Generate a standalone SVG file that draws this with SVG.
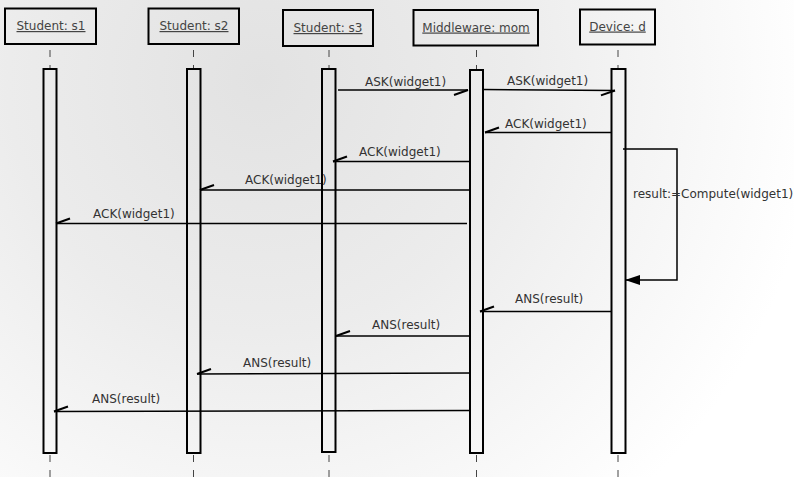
<svg xmlns="http://www.w3.org/2000/svg" width="794" height="477" viewBox="0 0 794 477">
<defs>
<radialGradient id="bg" cx="260" cy="80" r="560" gradientUnits="userSpaceOnUse">
<stop offset="0" stop-color="#e2e2e2"/>
<stop offset="0.45" stop-color="#ececec"/>
<stop offset="1" stop-color="#ffffff"/>
</radialGradient>
<marker id="half" markerUnits="userSpaceOnUse" orient="auto" markerWidth="20" markerHeight="16" viewBox="-17 -8 20 16" refX="0" refY="0" overflow="visible">
<path d="M-14,5 L0,0" fill="none" stroke="#000" stroke-width="2"/>
</marker>
<marker id="solid" markerUnits="userSpaceOnUse" orient="auto" markerWidth="20" markerHeight="16" viewBox="-17 -8 20 16" refX="0" refY="0" overflow="visible">
<path d="M0,0 L-15,-5 L-15,5 z" fill="#000"/>
</marker>
<style>
.hdr{fill:none;stroke:#000;stroke-width:2}
.hdrt{font-family:"DejaVu Sans",Verdana,sans-serif;font-size:12px;fill:#444;text-anchor:middle;text-decoration:underline}
.act{fill:none;stroke:#000;stroke-width:2}
.life{stroke:#444;stroke-width:1;stroke-dasharray:7 8;fill:none}
.msg{stroke:#000;stroke-width:1.5;fill:none;marker-end:url(#half)}
.self{stroke:#000;stroke-width:1.5;fill:none;marker-end:url(#solid)}
.lbl{font-family:"DejaVu Sans",Verdana,sans-serif;font-size:12px;fill:#333}
</style>
</defs>
<rect x="0" y="0" width="794" height="477" fill="url(#bg)"/>

<g id="s1">
<rect class="hdr" x="5" y="8.5" width="91" height="35.5"/>
<text class="hdrt" x="51" y="30">Student: s1</text>
<line class="life" x1="50" y1="50" x2="50" y2="69"/>
<line class="life" x1="50" y1="455" x2="50" y2="477"/>
<rect class="act" x="43.5" y="69" width="13" height="384"/>
</g>
<g id="s2">
<rect class="hdr" x="148.5" y="8.5" width="90.5" height="35.5"/>
<text class="hdrt" x="194" y="30">Student: s2</text>
<line class="life" x1="193.5" y1="50" x2="193.5" y2="69"/>
<line class="life" x1="193.5" y1="455" x2="193.5" y2="477"/>
<rect class="act" x="187" y="69" width="13.5" height="384"/>
</g>
<g id="s3">
<rect class="hdr" x="283" y="10" width="90" height="36"/>
<text class="hdrt" x="328" y="32">Student: s3</text>
<line class="life" x1="329" y1="50" x2="329" y2="69"/>
<line class="life" x1="329" y1="455" x2="329" y2="477"/>
<rect class="act" x="322" y="69" width="13.5" height="383"/>
</g>
<g id="mom">
<rect class="hdr" x="413.5" y="10" width="124.5" height="35.5"/>
<text class="hdrt" x="476" y="31.5">Middleware: mom</text>
<line class="life" x1="476.5" y1="50" x2="476.5" y2="70"/>
<line class="life" x1="476.5" y1="455" x2="476.5" y2="477"/>
<rect class="act" x="470" y="70" width="13" height="383"/>
</g>
<g id="device">
<rect class="hdr" x="580" y="9.5" width="75" height="35"/>
<text class="hdrt" x="617.5" y="30.5">Device: d</text>
<line class="life" x1="618" y1="50" x2="618" y2="69"/>
<line class="life" x1="618" y1="455" x2="618" y2="477"/>
<rect class="act" x="611.5" y="69" width="14" height="384"/>
</g>

<g id="connectors">
<line class="msg" x1="338" y1="90" x2="468" y2="90"/>
<text class="lbl" x="365" y="86">ASK(widget1)</text>
<line class="msg" x1="483" y1="89.5" x2="615" y2="90.5"/>
<text class="lbl" x="507" y="85">ASK(widget1)</text>
<line class="msg" x1="611" y1="132.5" x2="485" y2="132.5"/>
<text class="lbl" x="505" y="127.5">ACK(widget1)</text>
<line class="msg" x1="469" y1="161.5" x2="333" y2="161.5"/>
<text class="lbl" x="359" y="156">ACK(widget1)</text>
<line class="msg" x1="469" y1="190" x2="200" y2="190"/>
<text class="lbl" x="245" y="184">ACK(widget1)</text>
<line class="msg" x1="467" y1="223.5" x2="56" y2="223.5"/>
<text class="lbl" x="93" y="218">ACK(widget1)</text>
<polyline class="self" points="623,149 677,149 677,280 625,280"/>
<text class="lbl" x="633" y="198">result:=Compute(widget1)</text>
<line class="msg" x1="611" y1="311.5" x2="480" y2="311.5"/>
<text class="lbl" x="515" y="302.5">ANS(result)</text>
<line class="msg" x1="470" y1="336" x2="336" y2="336"/>
<text class="lbl" x="372" y="328.5">ANS(result)</text>
<line class="msg" x1="471" y1="373" x2="197" y2="374"/>
<text class="lbl" x="243" y="367">ANS(result)</text>
<line class="msg" x1="470" y1="410.5" x2="54" y2="411.5"/>
<text class="lbl" x="92" y="402.5">ANS(result)</text>
</g>
</svg>
